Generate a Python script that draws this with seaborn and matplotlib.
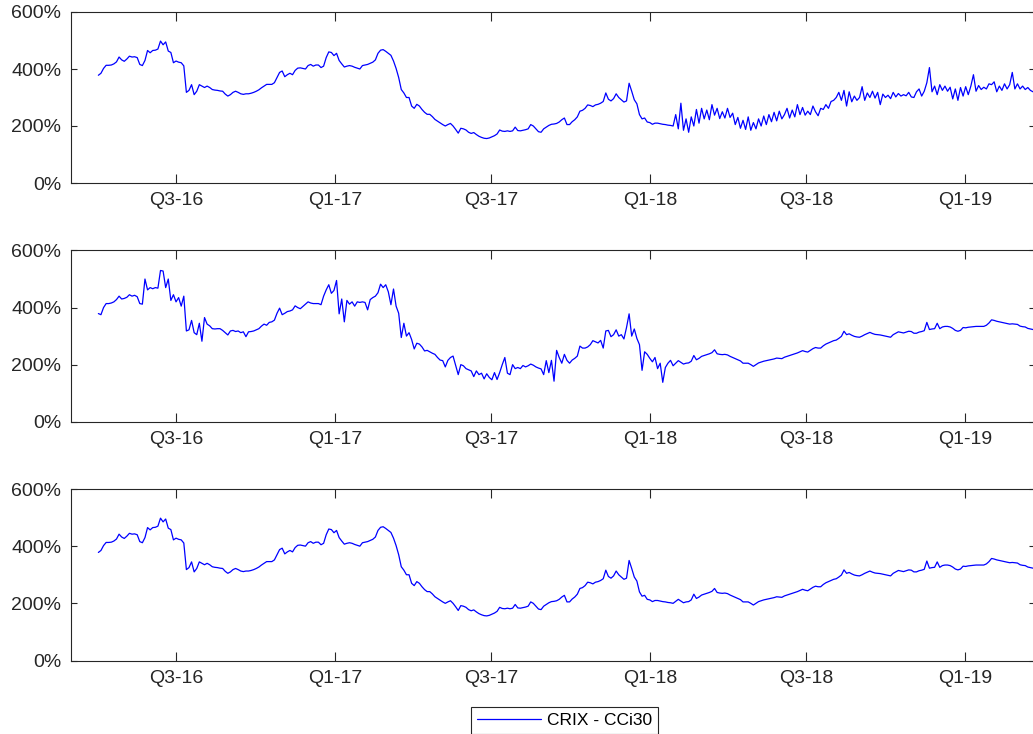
import pandas as pd
import matplotlib
matplotlib.use("Agg")
import matplotlib.pyplot as plt
from matplotlib.lines import Line2D
import seaborn as sns

# Observations every 3 days starting from the first date
start_date = "2016-04-02"
step = "3D"

# Cumulative return (%) per panel
crix_top = [
    378, 385, 402, 413, 413, 414, 418, 425, 442, 432,
    427, 435, 445, 442, 443, 440, 416, 412, 430, 465,
    457, 465, 466, 470, 498, 485, 495, 463, 458, 422,
    428, 424, 422, 411, 318, 325, 345, 310, 322, 345,
    340, 335, 340, 335, 328, 326, 325, 323, 322, 312,
    305, 310, 318, 322, 318, 313, 311, 313, 313, 315,
    318, 322, 327, 334, 340, 346, 346, 346, 352, 370,
    388, 393, 373, 380, 385, 380, 395, 403, 404, 402,
    400, 412, 416, 410, 414, 414, 405, 410, 440, 460,
    458, 447, 455, 430, 418, 407, 410, 412, 410, 406,
    403, 400, 412, 414, 416, 420, 424, 432, 455, 466,
    468, 462, 455, 448, 428, 402, 370, 328, 316, 300,
    300, 270, 262, 276, 270, 258, 248, 241, 241, 233,
    223, 217, 211, 205, 200, 205, 209, 200, 188, 175,
    192, 190, 186, 178, 174, 177, 170, 164, 160, 157,
    156, 158, 162, 166, 172, 186, 182, 181, 183, 181,
    183, 196, 184, 183, 185, 187, 190, 205, 200, 190,
    180, 178, 190, 196, 202, 206, 207, 209, 214, 222,
    228, 205, 205, 215, 222, 232, 252, 255, 262, 274,
    272, 268, 274, 276, 280, 286, 316, 294, 288, 296,
    313, 300, 292, 284, 288, 350, 322, 292, 278, 240,
    225, 228, 214, 212, 206, 210, 210, 208, 206, 205,
    203, 202, 200, 240, 190, 280, 185, 225, 178, 232,
    200, 258, 210, 262, 225, 256, 222, 275, 238, 262,
    226, 250, 228, 262, 230, 245, 205, 230, 192, 220,
    188, 232, 185, 212, 190, 225, 200, 235, 205, 240,
    215, 248, 218, 252, 225, 240, 262, 228, 256, 232,
    275, 240, 265, 238, 252, 240, 270, 250, 236, 262,
    258, 275, 262, 286, 290, 300, 318, 290, 325, 270,
    320, 285, 305, 290, 300, 338, 290, 316, 300, 322,
    298, 318, 275, 312, 300, 308, 296, 318, 302, 314,
    305, 310, 306, 318, 302, 300, 320, 330, 305, 322,
    352, 405, 320, 340, 310, 345, 325, 340, 322, 336,
    295, 330, 290, 335, 305, 338, 310, 340, 380, 322,
    342, 328, 336, 330, 348, 345, 355, 320, 340, 325,
    348, 330, 345, 388, 330, 348, 330, 340, 328, 335,
    325, 320,
]

crix_mid = [
    379, 375, 400, 414, 414, 416, 420, 428, 440, 430,
    432, 436, 445, 440, 443, 438, 414, 412, 500, 462,
    470, 466, 470, 468, 530, 528, 470, 500, 425, 445,
    420, 435, 405, 440, 318, 322, 355, 312, 305, 345,
    282, 365, 342, 336, 326, 325, 326, 326, 320, 312,
    304, 318, 320, 316, 318, 312, 315, 298, 315, 316,
    318, 322, 326, 335, 342, 338, 348, 350, 356, 380,
    398, 375, 380, 386, 388, 392, 406, 400, 396, 404,
    412, 420, 416, 414, 414, 414, 410, 440, 462, 480,
    450, 460, 495, 378, 430, 350, 425, 412, 420, 405,
    420, 418, 420, 418, 392, 428, 435, 440, 452, 482,
    470, 480, 455, 410, 465, 405, 380, 295, 345, 300,
    312, 288, 255, 275, 272, 262, 248, 250, 245, 240,
    236, 225, 216, 214, 192, 215, 225, 230, 198, 165,
    200, 196, 186, 182, 178, 158, 178, 165, 170, 150,
    168, 155, 147, 172, 148, 172, 200, 225, 170, 165,
    200, 186, 190, 186, 197, 192, 196, 202, 198, 192,
    188, 185, 165, 214, 172, 215, 142, 250, 225, 205,
    236, 215, 205, 216, 222, 230, 265, 258, 258, 262,
    270, 284, 280, 276, 285, 258, 318, 320, 298, 305,
    322, 300, 305, 290, 330, 378, 300, 325, 292, 270,
    180, 245, 236, 222, 210, 225, 186, 205, 138, 190,
    205, 215, 196, 205, 214, 208, 202, 205, 206, 212,
    232, 217, 222, 229, 232, 235, 238, 242, 252, 238,
    236, 235, 236, 234, 229, 225, 221, 217, 213, 205,
    205, 205, 200, 194, 200, 206, 209, 212, 214, 216,
    218, 220, 223, 222, 221, 226, 229, 232, 235, 238,
    241, 245, 249, 246, 244, 250, 256, 260, 258, 258,
    266, 272, 276, 280, 284, 286, 292, 299, 317, 305,
    308, 303, 299, 297, 296, 300, 305, 309, 313, 309,
    306, 305, 304, 302, 300, 298, 296, 305, 310, 315,
    313, 311, 314, 317, 316, 310, 310, 314, 316, 319,
    348, 323, 325, 326, 345, 326, 332, 334, 334, 332,
    327, 320, 317, 320, 330, 329, 331, 332, 333, 334,
    334, 334, 334, 338, 346, 357, 355, 352, 350, 348,
    346, 344, 342, 343, 342, 341, 335, 333, 332, 327,
    325, 323,
]

crix_bottom = [
    378, 385, 402, 413, 413, 414, 418, 425, 442, 432,
    427, 435, 445, 442, 443, 440, 416, 412, 430, 465,
    457, 465, 466, 470, 498, 485, 495, 463, 458, 422,
    428, 424, 422, 411, 318, 325, 345, 310, 322, 345,
    340, 335, 340, 335, 328, 326, 325, 323, 322, 312,
    305, 310, 318, 322, 318, 313, 311, 313, 313, 315,
    318, 322, 327, 334, 340, 346, 346, 346, 352, 370,
    388, 393, 373, 380, 385, 380, 395, 403, 404, 402,
    400, 412, 416, 410, 414, 414, 405, 410, 440, 460,
    458, 447, 455, 430, 418, 407, 410, 412, 410, 406,
    403, 400, 412, 414, 416, 420, 424, 432, 455, 466,
    468, 462, 455, 448, 428, 402, 370, 328, 316, 300,
    300, 270, 262, 276, 270, 258, 248, 241, 241, 233,
    223, 217, 211, 205, 200, 205, 209, 200, 188, 175,
    192, 190, 186, 178, 174, 177, 170, 164, 160, 157,
    156, 158, 162, 166, 172, 186, 182, 181, 183, 181,
    183, 196, 184, 183, 185, 187, 190, 205, 200, 190,
    180, 178, 190, 196, 202, 206, 207, 209, 214, 222,
    228, 205, 205, 215, 222, 232, 252, 255, 262, 274,
    272, 268, 274, 276, 280, 286, 316, 294, 288, 296,
    313, 300, 292, 284, 288, 350, 322, 292, 278, 240,
    225, 228, 214, 212, 206, 210, 210, 208, 206, 205,
    203, 202, 200, 207, 214, 208, 202, 205, 206, 212,
    232, 217, 222, 229, 232, 235, 238, 242, 252, 238,
    236, 235, 236, 234, 229, 225, 221, 217, 213, 205,
    205, 205, 200, 194, 200, 206, 209, 212, 214, 216,
    218, 220, 223, 222, 221, 226, 229, 232, 235, 238,
    241, 245, 249, 246, 244, 250, 256, 260, 258, 258,
    266, 272, 276, 280, 284, 286, 292, 299, 317, 305,
    308, 303, 299, 297, 296, 300, 305, 309, 313, 309,
    306, 305, 304, 302, 300, 298, 296, 305, 310, 315,
    313, 311, 314, 317, 316, 310, 310, 314, 316, 319,
    348, 323, 325, 326, 345, 326, 332, 334, 334, 332,
    327, 320, 317, 320, 330, 329, 331, 332, 333, 334,
    334, 334, 334, 338, 346, 357, 355, 352, 350, 348,
    346, 344, 342, 343, 342, 341, 335, 333, 332, 327,
    325, 323,
]

tick_dates = ["2016-07-01", "2017-01-01", "2017-07-01",
              "2018-01-01", "2018-07-01", "2019-01-01"]
tick_labels = ["Q3-16", "Q1-17", "Q3-17", "Q1-18", "Q3-18", "Q1-19"]
y_ticks = [0, 200, 400, 600]
series_label = "CRIX - CCi30"

sns.set_theme(style="white")
plt.rcParams["font.family"] = ["Liberation Sans", "DejaVu Sans"]

ink = "#262626"
line_color = "#0000ff"
W, H = 1033, 734

fig = plt.figure(figsize=(W / 100, H / 100), dpi=100)
fig.patch.set_facecolor("white")

# panel boxes in pixels: (left, top, right, bottom)
boxes = [(71, 12, 1034.5, 183), (71, 250.5, 1034.5, 421.7), (71, 489, 1034.5, 660.5)]
panels = [crix_top, crix_mid, crix_bottom]

for vals, (l, t, r, b) in zip(panels, boxes):
    ax = fig.add_axes([l / W, 1 - b / H, (r - l) / W, (b - t) / H])
    df = pd.DataFrame({
        "date": pd.date_range(start_date, periods=len(vals), freq=step),
        "ret": vals,
    })
    sns.lineplot(data=df, x="date", y="ret", ax=ax, color=line_color,
                 linewidth=0.9, legend=False)
    ax.set_xlim(pd.Timestamp("2016-03-01 07:00"), pd.Timestamp("2019-03-22 18:00"))
    ax.set_ylim(0, 600)
    ax.set_xticks(pd.to_datetime(tick_dates))
    ax.set_xticklabels(tick_labels)
    ax.set_yticks(y_ticks)
    ax.set_yticklabels([f"{v}%" for v in y_ticks])
    ax.set_xlabel("")
    ax.set_ylabel("")
    ax.grid(False)
    for sp in ax.spines.values():
        sp.set_visible(True)
        sp.set_color(ink)
        sp.set_linewidth(0.8)
    ax.tick_params(axis="both", direction="in", width=0.8, color=ink,
                   labelcolor=ink, labelsize=14)
    ax.tick_params(axis="x", length=6.5, pad=6.5, top=True, bottom=True)
    ax.tick_params(axis="y", length=4.5, pad=7, left=True, right=True)

handle = Line2D([], [], color=line_color, linewidth=0.9)
leg = fig.legend(handles=[handle], labels=[series_label],
                 loc="upper left", bbox_to_anchor=(470.5 / W, 1 - 707 / H),
                 bbox_transform=fig.transFigure, borderaxespad=0,
                 frameon=True, fancybox=False, framealpha=1,
                 edgecolor=ink, facecolor="white", fontsize=12.5,
                 handlelength=3.7, handletextpad=0.35, borderpad=0.35)
leg.get_frame().set_linewidth(0.8)
for txt in leg.get_texts():
    txt.set_color("black")

fig.savefig("out.png", dpi=100, facecolor="white")
